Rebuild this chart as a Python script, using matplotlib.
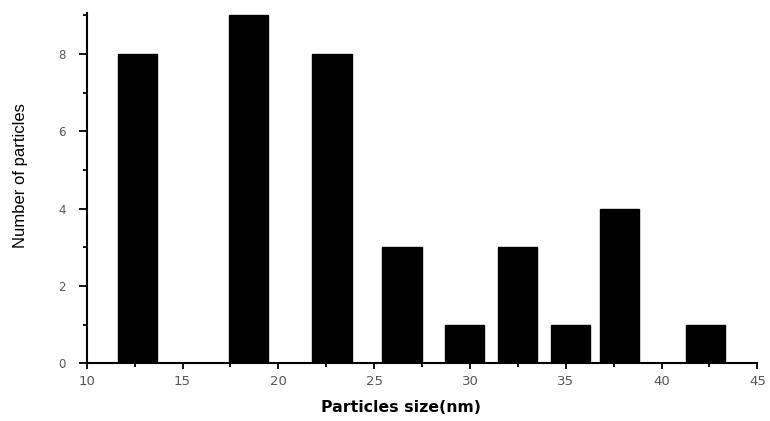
import matplotlib
matplotlib.use("Agg")
import matplotlib.pyplot as plt
from matplotlib.ticker import MultipleLocator

# particle size bins (nm) and counts
sizes = [12.65, 18.45, 22.8, 26.45, 29.7, 32.5, 35.25, 37.8, 42.3]
counts = [8, 9, 8, 3, 1, 3, 1, 4, 1]
bar_width = 2.05

fig = plt.figure(figsize=(7.7, 4.21), dpi=100)
ax = fig.add_axes([0.1126, 0.137, 0.871, 0.831])

ax.bar(sizes, counts, width=bar_width, color='black', edgecolor='black')

ax.set_xlim(10, 45)
ax.set_ylim(0, 9.05)
ax.xaxis.set_major_locator(MultipleLocator(5))
ax.xaxis.set_minor_locator(MultipleLocator(2.5))
ax.yaxis.set_major_locator(MultipleLocator(2))
ax.yaxis.set_minor_locator(MultipleLocator(1))

for side in ['top', 'right']:
    ax.spines[side].set_visible(False)
for side in ['left', 'bottom']:
    ax.spines[side].set_linewidth(1.5)

ax.tick_params(which='both', direction='out', width=1.3, labelcolor='#555555')
ax.tick_params(axis='x', which='major', length=4.5, labelsize=9.5, pad=4)
ax.tick_params(axis='y', which='major', length=6, labelsize=8.5, pad=9)
ax.tick_params(which='minor', length=3)

ax.set_xlabel('Particles size(nm)', fontsize=11.3, fontweight='bold')
ax.xaxis.set_label_coords(0.468, -0.105)
ax.set_ylabel('Number of particles', fontsize=12, family='Liberation Sans')
ax.yaxis.set_label_coords(-0.088, 0.538)

fig.savefig('out.png', dpi=100)
